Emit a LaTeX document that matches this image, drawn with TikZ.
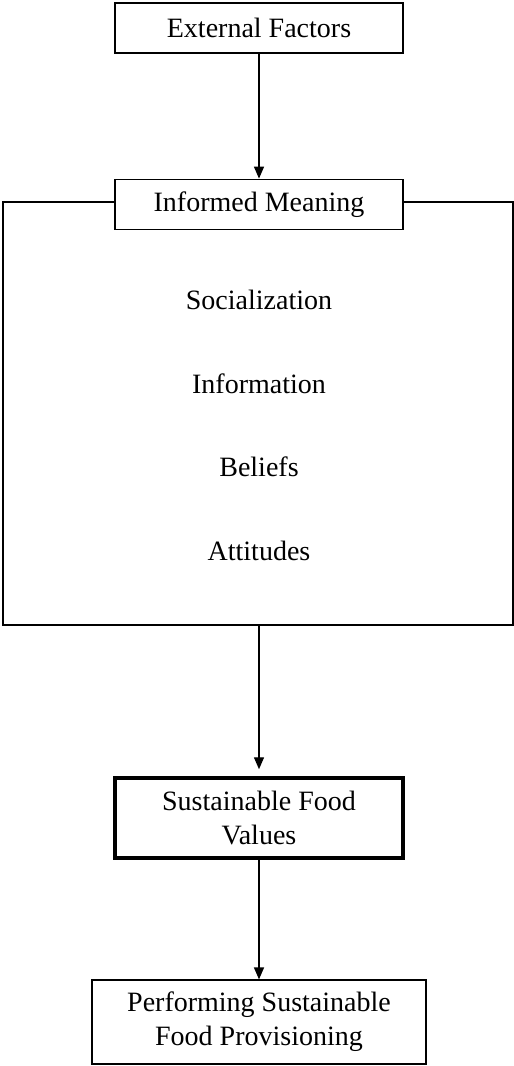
\documentclass[tikz,border=0pt]{standalone}
\usepackage{fontspec}
\setmainfont{Liberation Serif}
\usetikzlibrary{arrows.meta, positioning}

\begin{document}
\begin{tikzpicture}[
        x=1pt, y=-1pt,
        every node/.style={font=\fontsize{28}{34}\selectfont},
        stage/.style={
            draw,
            line width=1.2pt,
            minimum width=288pt,
            minimum height=50pt,
            align=center,
            fill=white
        },
        outcome/.style={stage, minimum height=84pt},
        frame/.style={draw, line width=1.2pt, minimum width=510pt, minimum height=423pt},
        flowarrow/.style={-{Triangle[length=12pt, width=10pt]}, line width=1.4pt}
    ]
        \useasboundingbox (0,0) rectangle (514,1066);

        \node[frame] (meaning) at (258,413.5) {};

        \node[stage] (external) at (259,28) {External Factors};
        \node[stage, below=125pt of external] (informed) {Informed Meaning};

        \node (social) at (259,300) {Socialization};
        \node (info) at (259,384) {Information};
        \node (beliefs) at (259,467) {Beliefs};
        \node (attitudes) at (259,551) {Attitudes};

        \node[outcome, line width=3.5pt, minimum height=80pt] (values) at (259,818) {Sustainable Food\\Values};
        \node[outcome, minimum width=334pt] (performing) at (259,1022) {Performing Sustainable\\Food Provisioning};

        \draw[flowarrow] (external) -- (informed);
        \draw[flowarrow, shorten >=7pt] (meaning.south -| values.north) -- (values.north);
        \draw[flowarrow] (values) -- (performing);
    \end{tikzpicture}
\end{document}
